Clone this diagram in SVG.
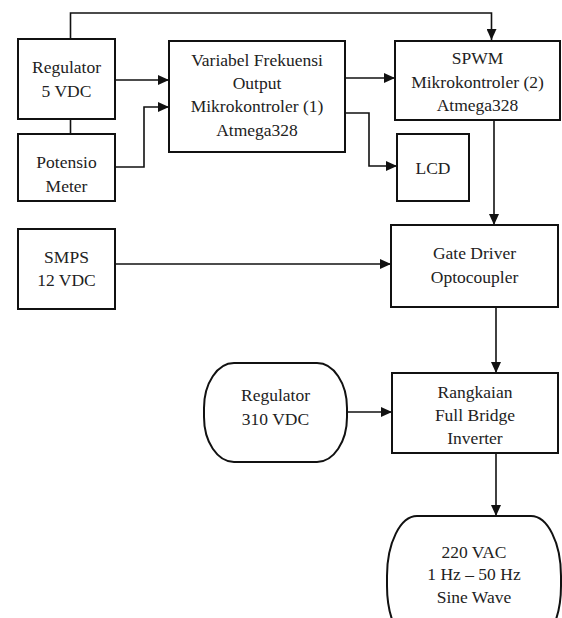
<svg xmlns="http://www.w3.org/2000/svg" width="562" height="618" viewBox="0 0 562 618">
<style>
.box{fill:#fff;stroke:#111;stroke-width:2}
.ln{fill:none;stroke:#111;stroke-width:1.6}
text{font-family:"Liberation Serif","Times New Roman",serif;font-size:17.5px;fill:#222;text-anchor:middle}
</style>
<defs>
<marker id="ah" viewBox="0 0 11 10" refX="11" refY="5" markerWidth="11" markerHeight="10" markerUnits="userSpaceOnUse" orient="auto">
<path d="M0,0 L11,5 L0,10 Z" fill="#111"/>
</marker>
</defs>
<rect width="562" height="618" fill="#fff"/>
<g id="connectors">
<path class="ln" d="M70.5,39 V13 H491.5 V40" marker-end="url(#ah)"/>
<path class="ln" d="M70.5,119 V134"/>
<path class="ln" d="M115,80 H169" marker-end="url(#ah)"/>
<path class="ln" d="M115,167 H144 V107 H169" marker-end="url(#ah)"/>
<path class="ln" d="M345,78 H395" marker-end="url(#ah)"/>
<path class="ln" d="M345,113 H369 V166 H397" marker-end="url(#ah)"/>
<path class="ln" d="M494,120 V225" marker-end="url(#ah)"/>
<path class="ln" d="M115,264 H391" marker-end="url(#ah)"/>
<path class="ln" d="M496,307 V373" marker-end="url(#ah)"/>
<path class="ln" d="M347,412 H392" marker-end="url(#ah)"/>
<path class="ln" d="M496,453 V516" marker-end="url(#ah)"/>
</g>
<g id="reg5">
<rect class="box" x="18" y="39" width="97" height="80"/>
<text x="66.5" y="73">Regulator</text>
<text x="66.5" y="97">5 VDC</text>
</g>
<g id="potensio">
<rect class="box" x="18" y="134" width="97" height="67"/>
<text x="66.5" y="168">Potensio</text>
<text x="66.5" y="192">Meter</text>
</g>
<g id="mcu1">
<rect class="box" x="169" y="41" width="176" height="111"/>
<text x="257" y="66">Variabel Frekuensi</text>
<text x="257" y="89">Output</text>
<text x="257" y="112">Mikrokontroler (1)</text>
<text x="257" y="136">Atmega328</text>
</g>
<g id="spwm">
<rect class="box" x="395" y="41" width="165" height="79"/>
<text x="477.5" y="64">SPWM</text>
<text x="477.5" y="88">Mikrokontroler (2)</text>
<text x="477.5" y="111">Atmega328</text>
</g>
<g id="lcd">
<rect class="box" x="397" y="134" width="72" height="67"/>
<text x="433" y="174">LCD</text>
</g>
<g id="smps">
<rect class="box" x="18" y="229" width="97" height="80"/>
<text x="66.5" y="263">SMPS</text>
<text x="66.5" y="286">12 VDC</text>
</g>
<g id="gate">
<rect class="box" x="391" y="225" width="167" height="82"/>
<text x="474.5" y="259">Gate Driver</text>
<text x="474.5" y="283">Optocoupler</text>
</g>
<g id="reg310">
<rect class="box" x="204" y="363" width="143" height="99" rx="30" ry="45"/>
<text x="275.5" y="401">Regulator</text>
<text x="275.5" y="425">310 VDC</text>
</g>
<g id="bridge">
<rect class="box" x="392" y="373" width="166" height="80"/>
<text x="475" y="398">Rangkaian</text>
<text x="475" y="421">Full Bridge</text>
<text x="475" y="444">Inverter</text>
</g>
<g id="output">
<rect class="box" x="387" y="516" width="174" height="130" rx="30" ry="60"/>
<text x="474" y="558">220 VAC</text>
<text x="474" y="580">1 Hz – 50 Hz</text>
<text x="474" y="603">Sine Wave</text>
</g>
</svg>
